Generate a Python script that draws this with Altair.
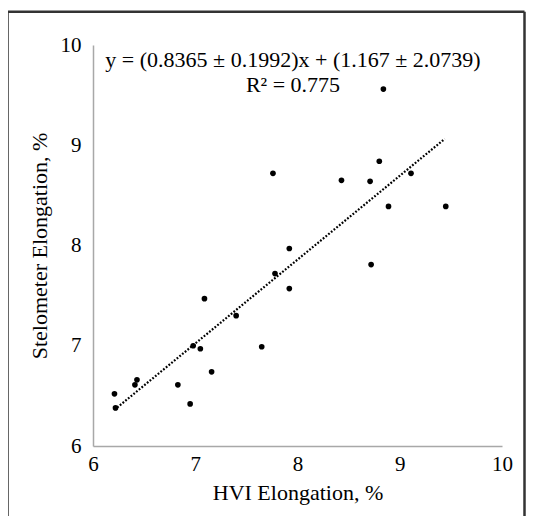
import altair as alt
import pandas as pd

# Data
hvi = [8.84, 7.76, 8.80, 8.43, 8.71, 9.11, 8.89, 9.45, 7.92, 8.72, 7.78, 7.92,
       7.09, 7.40, 6.98, 7.05, 7.65, 7.16, 6.83, 6.43, 6.41, 6.21, 6.22, 6.95]
stelometer = [9.56, 8.72, 8.84, 8.65, 8.64, 8.72, 8.39, 8.39, 7.97, 7.81, 7.72, 7.57,
              7.47, 7.30, 7.00, 6.97, 6.99, 6.74, 6.61, 6.66, 6.61, 6.52, 6.38, 6.42]
trend_x = [6.21, 9.44]
slope = 0.8365
intercept = 1.167
x_ticks = [6, 7, 8, 9, 10]
y_ticks = [6, 7, 8, 9, 10]
equation = "y = (0.8365 ± 0.1992)x + (1.167 ± 2.0739)"
r2_text = "R² = 0.775"

FONT = "Liberation Serif"

points_df = pd.DataFrame({"hvi": hvi, "stel": stelometer})
trend_df = pd.DataFrame({"hvi": trend_x})

xscale = alt.Scale(domain=[6, 10], nice=False, zero=False)
yscale = alt.Scale(domain=[6, 10], nice=False, zero=False)

common = dict(grid=False, ticks=False, tickSize=0, domainColor="#a8a8a8",
              domainWidth=1.5, labelFont=FONT, labelFontSize=21, labelColor="black",
              labelFlush=False, titleFont=FONT, titleFontSize=22,
              titleFontWeight="normal", titleColor="black", format="d")
xaxis = alt.Axis(values=x_ticks, title="HVI Elongation, %", labelPadding=7,
                 titlePadding=8, **common)
yaxis = alt.Axis(values=y_ticks, title="Stelometer Elongation, %", labelPadding=12,
                 titlePadding=9, **common)

pts = alt.Chart(points_df).mark_circle(size=32, color="black", opacity=1).encode(
    x=alt.X("hvi:Q", scale=xscale, axis=xaxis),
    y=alt.Y("stel:Q", scale=yscale, axis=yaxis),
)

trend = alt.Chart(trend_df).transform_calculate(
    stel=f"{slope} * datum.hvi + {intercept}"
).mark_line(color="black", strokeWidth=2.2, strokeDash=[1.8, 1.7]).encode(
    x=alt.X("hvi:Q", scale=xscale),
    y=alt.Y("stel:Q", scale=yscale),
)

eq = alt.Chart(pd.DataFrame({"t": [equation]})).mark_text(
    font=FONT, fontSize=22, color="black", align="center", baseline="alphabetic"
).encode(text="t:N", x=alt.value(200), y=alt.value(22))

r2 = alt.Chart(pd.DataFrame({"t": [r2_text]})).mark_text(
    font=FONT, fontSize=22, color="black", align="center", baseline="alphabetic"
).encode(text="t:N", x=alt.value(200), y=alt.value(47))

border_left = alt.Chart(pd.DataFrame({"a": [0]})).mark_rule(color="#333333", strokeWidth=2.5).encode(
    x=alt.value(-85.5), y=alt.value(-33.3), y2=alt.value(475))
border_right = alt.Chart(pd.DataFrame({"a": [0]})).mark_rule(color="#333333", strokeWidth=2.5).encode(
    x=alt.value(431.5), y=alt.value(-33.3), y2=alt.value(475))
border_top = alt.Chart(pd.DataFrame({"a": [0]})).mark_rule(color="#333333", strokeWidth=2.5).encode(
    x=alt.value(-85.5), x2=alt.value(431.5), y=alt.value(-33.3))

chart = alt.layer(trend, pts, eq, r2, border_left, border_right, border_top).properties(
    width=409, height=401,
    autosize=alt.AutoSizeParams(type="none"),
    padding={"left": 85, "top": 37, "right": 24, "bottom": 70},
    background="white",
).configure_view(stroke=None)

chart.save("out.html", embed_options={"renderer": "svg", "actions": False})
